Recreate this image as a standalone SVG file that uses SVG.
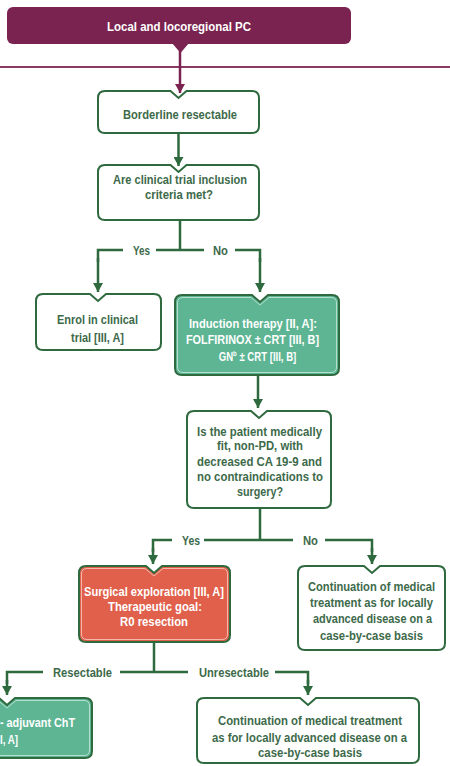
<svg xmlns="http://www.w3.org/2000/svg" width="450" height="766" viewBox="0 0 450 766">
<defs>
<style>
.t{font-family:"Liberation Sans",Arial,sans-serif;font-weight:bold;font-size:12.8px;text-anchor:middle;fill:#3d6a4a}
.s{font-size:12px}
.w{fill:#ffffff}
.box{fill:#ffffff;stroke:#2e6a3e;stroke-width:2}
.gbox{fill:#5db594;stroke:#2e6a3e;stroke-width:2}
.rbox{fill:#e0604b;stroke:#2e6a3e;stroke-width:2}
.inner{fill:none;stroke:#ffffff;stroke-opacity:0.55;stroke-width:1}
.c{fill:none;stroke:#2e6a3e;stroke-width:2.5}
.p{fill:none;stroke:#7a2350;stroke-width:2.5}
</style>
<marker id="ag" markerUnits="userSpaceOnUse" markerWidth="12" markerHeight="10" refX="9" refY="5" orient="auto">
<path d="M0,0 L9,5 L0,10 Z" fill="#2e6a3e"/>
</marker>
<marker id="ap" markerUnits="userSpaceOnUse" markerWidth="12" markerHeight="10" refX="9" refY="5" orient="auto">
<path d="M0,0 L9,5 L0,10 Z" fill="#7a2350"/>
</marker>
</defs>
<rect width="450" height="766" fill="#ffffff"/>

<g id="connectors">
<line x1="0" y1="67" x2="450" y2="67" stroke="#8a3a62" stroke-width="2"/>
<path class="p" d="M180,44 V93" marker-end="url(#ap)"/>
<path class="c" d="M178.5,133 V166" marker-end="url(#ag)"/>
<path class="c" d="M180,220 V250"/>
<path class="c" d="M98,262 V250 H123 M156,250 H204 M235,250 H260 V262"/>
<path class="c" d="M98,258 V292" marker-end="url(#ag)"/>
<path class="c" d="M260,258 V292" marker-end="url(#ag)"/>
<text class="t" x="141.5" y="255" textLength="17" lengthAdjust="spacingAndGlyphs">Yes</text>
<text class="t" x="220.5" y="255" textLength="15" lengthAdjust="spacingAndGlyphs">No</text>
<path class="c" d="M258,375 V408" marker-end="url(#ag)"/>
<path class="c" d="M260,508 V540"/>
<path class="c" d="M153,552 V540 H172 M204,540 H293 M325,540 H372 V552"/>
<path class="c" d="M153,548 V564" marker-end="url(#ag)"/>
<path class="c" d="M372,548 V564" marker-end="url(#ag)"/>
<text class="t" x="191" y="544.5" textLength="18" lengthAdjust="spacingAndGlyphs">Yes</text>
<text class="t" x="310.5" y="544.5" textLength="15" lengthAdjust="spacingAndGlyphs">No</text>
<path class="c" d="M154,642 V672"/>
<path class="c" d="M7,684 V672 H43 M120,672 H188 M275,672 H308 V684"/>
<path class="c" d="M7,680 V695" marker-end="url(#ag)"/>
<path class="c" d="M308,680 V695" marker-end="url(#ag)"/>
<text class="t" x="82.5" y="676.5" textLength="59" lengthAdjust="spacingAndGlyphs">Resectable</text>
<text class="t" x="234" y="676.5" textLength="70" lengthAdjust="spacingAndGlyphs">Unresectable</text>
</g>

<g id="n-local">
<rect x="7" y="7" width="344" height="37" rx="6" fill="#7a2350"/>
<path d="M172,43 L189,43 L180.5,53 Z" fill="#7a2350"/>
<text class="t w" x="179" y="31" textLength="144" lengthAdjust="spacingAndGlyphs">Local and locoregional PC</text>
</g>

<g id="n-borderline">
<path class="box" d="M105,91 H170.5 L178.5,98 L186.5,91 H252 Q259,91 259,98 V126 Q259,133 252,133 H105 Q98,133 98,126 V98 Q98,91 105,91 Z"/>
<text class="t" x="180" y="118.5" textLength="114" lengthAdjust="spacingAndGlyphs">Borderline resectable</text>
</g>

<g id="n-trial">
<path class="box" d="M105,165 H170.5 L178.5,172 L186.5,165 H252 Q259,165 259,172 V213 Q259,220 252,220 H105 Q98,220 98,213 V172 Q98,165 105,165 Z"/>
<text class="t" x="180" y="184" textLength="134" lengthAdjust="spacingAndGlyphs">Are clinical trial inclusion</text>
<text class="t" x="179" y="199" textLength="68" lengthAdjust="spacingAndGlyphs">criteria met?</text>
</g>

<g id="n-enrol">
<path class="box" d="M43,294 H90 L98,301 L106,294 H154 Q161,294 161,301 V343 Q161,350 154,350 H43 Q36,350 36,343 V301 Q36,294 43,294 Z"/>
<text class="t" x="97.5" y="323.5" textLength="81" lengthAdjust="spacingAndGlyphs">Enrol in clinical</text>
<text class="t" x="97.5" y="341.5" textLength="53" lengthAdjust="spacingAndGlyphs">trial [III, A]</text>
</g>

<g id="n-induction">
<path class="gbox" d="M182,295 H252 L260,302 L268,295 H332 Q339,295 339,302 V368 Q339,375 332,375 H182 Q175,375 175,368 V302 Q175,295 182,295 Z"/>
<path class="inner" d="M183,297.5 H251 L260,305 L269,297.5 H331 Q336.5,297.5 336.5,303 V367 Q336.5,372.5 331,372.5 H183 Q177.5,372.5 177.5,367 V303 Q177.5,297.5 183,297.5 Z"/>
<text class="t w" x="253" y="327.5" textLength="128" lengthAdjust="spacingAndGlyphs">Induction therapy [II, A]:</text>
<text class="t w" x="252.5" y="343.5" textLength="133" lengthAdjust="spacingAndGlyphs">FOLFIRINOX ± CRT [III, B]</text>
<text class="t w" transform="translate(257.5,360.5) scale(0.75,1)" x="0" y="0">GN<tspan font-size="8" dy="-4.5">b</tspan><tspan dy="4.5"> ± CRT [III, B]</tspan></text>
</g>

<g id="n-fit">
<path class="box" d="M194,411 H251 L259,418 L267,411 H324 Q331,411 331,418 V501 Q331,508 324,508 H194 Q187,508 187,501 V418 Q187,411 194,411 Z"/>
<text class="t" x="259.5" y="435.5" textLength="125" lengthAdjust="spacingAndGlyphs">Is the patient medically</text>
<text class="t" x="260" y="450" textLength="86" lengthAdjust="spacingAndGlyphs">fit, non-PD, with</text>
<text class="t" x="259.5" y="465.5" textLength="125" lengthAdjust="spacingAndGlyphs">decreased CA 19-9 and</text>
<text class="t" x="260" y="480.5" textLength="126" lengthAdjust="spacingAndGlyphs">no contraindications to</text>
<text class="t" x="260" y="495.5" textLength="46" lengthAdjust="spacingAndGlyphs">surgery?</text>
</g>

<g id="n-surgical">
<path class="rbox" d="M86,566 H146 L154,573 L162,566 H223 Q230,566 230,573 V635 Q230,642 223,642 H86 Q79,642 79,635 V573 Q79,566 86,566 Z"/>
<path class="inner" d="M87,568.5 H145 L154,576 L163,568.5 H222 Q227.5,568.5 227.5,574 V634 Q227.5,639.5 222,639.5 H87 Q81.5,639.5 81.5,634 V574 Q81.5,568.5 87,568.5 Z"/>
<text class="t w" x="154" y="595.5" textLength="140" lengthAdjust="spacingAndGlyphs">Surgical exploration [III, A]</text>
<text class="t w" x="155" y="610.5" textLength="94" lengthAdjust="spacingAndGlyphs">Therapeutic goal:</text>
<text class="t w" x="154" y="625.5" textLength="68" lengthAdjust="spacingAndGlyphs">R0 resection</text>
</g>

<g id="n-cont1">
<path class="box" d="M305,566 H364 L372,573 L380,566 H438 Q445,566 445,573 V643 Q445,650 438,650 H305 Q298,650 298,643 V573 Q298,566 305,566 Z"/>
<text class="t s" x="371.5" y="590.5" textLength="127" lengthAdjust="spacingAndGlyphs">Continuation of medical</text>
<text class="t s" x="371.5" y="606.5" textLength="123" lengthAdjust="spacingAndGlyphs">treatment as for locally</text>
<text class="t s" x="372.5" y="622.5" textLength="119" lengthAdjust="spacingAndGlyphs">advanced disease on a</text>
<text class="t s" x="371.5" y="639.5" textLength="103" lengthAdjust="spacingAndGlyphs">case-by-case basis</text>
</g>

<g id="n-adjuvant">
<path class="gbox" d="M-80,698 H-1 L7,705 L15,698 H85 Q92,698 92,705 V751 Q92,758 85,758 H-80 Z"/>
<path class="inner" d="M-80,700.5 H-2 L7,708 L16,700.5 H84 Q89.5,700.5 89.5,706 V750 Q89.5,755.5 84,755.5 H-80 Z"/>
<text class="t w" x="0" y="726.5" style="text-anchor:start" textLength="75" lengthAdjust="spacingAndGlyphs">- adjuvant ChT</text>
<text class="t w" x="0" y="743.5" style="text-anchor:start" textLength="18" lengthAdjust="spacingAndGlyphs">I, A]</text>
</g>

<g id="n-cont2">
<path class="box" d="M204,698 H300 L308,705 L316,698 H412 Q419,698 419,705 V756 Q419,763 412,763 H204 Q197,763 197,756 V705 Q197,698 204,698 Z"/>
<text class="t" x="310" y="724.5" textLength="184" lengthAdjust="spacingAndGlyphs">Continuation of medical treatment</text>
<text class="t" x="309.5" y="741.5" textLength="195" lengthAdjust="spacingAndGlyphs">as for locally advanced disease on a</text>
<text class="t" x="310" y="756.5" textLength="104" lengthAdjust="spacingAndGlyphs">case-by-case basis</text>
</g>
</svg>
